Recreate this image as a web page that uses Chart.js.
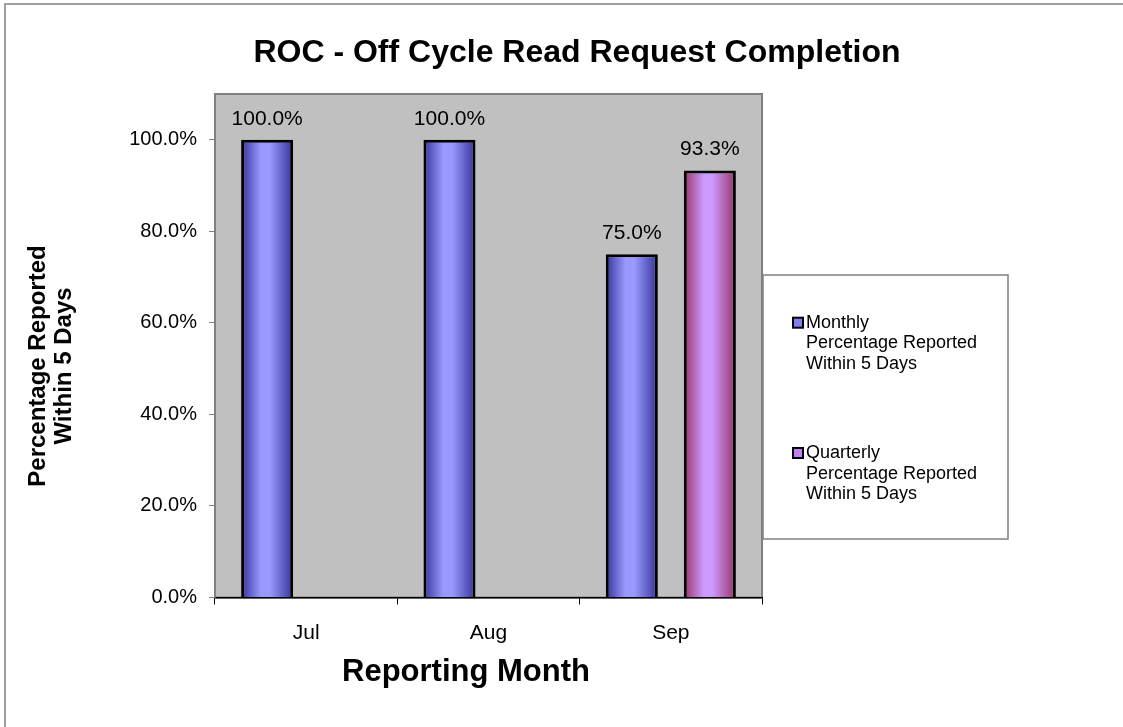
<!DOCTYPE html>
<html>
<head>
<meta charset="utf-8">
<script src="https://cdn.jsdelivr.net/npm/chart.js@4.4.1/dist/chart.umd.min.js"></script>
<style>
  html, body { margin: 0; padding: 0; background: #fff; }
  canvas { display: block; }
</style>
</head>
<body>
<canvas id="chart" width="1123" height="727"></canvas>
<script>
const categories = ['Jul', 'Aug', 'Sep'];
const monthlyValues = [100, 100, 75];
const quarterlyValues = [null, null, 93.3];
const seriesNames = [
  ['Monthly', 'Percentage Reported', 'Within 5 Days'],
  ['Quarterly', 'Percentage Reported', 'Within 5 Days'],
];
const yTickValues = [0, 20, 40, 60, 80, 100];

const FONT = '"Liberation Sans", Arial, sans-serif';

// horizontal shading across each bar, dark edges and a light middle
function barFill(edge, mid) {
  return (ctx) => {
    const el = ctx.element;
    if (!el || !isFinite(el.x) || !el.width) return mid;
    const g = ctx.chart.ctx.createLinearGradient(el.x - el.width / 2, 0, el.x + el.width / 2, 0);
    g.addColorStop(0, edge);
    g.addColorStop(0.38, mid);
    g.addColorStop(0.55, mid);
    g.addColorStop(1, edge);
    return g;
  };
}

const plotBackground = {
  id: 'plotBackground',
  beforeDraw(chart) {
    const { ctx, chartArea: a } = chart;
    ctx.save();
    // outer frame (only top and left edges are visible)
    ctx.strokeStyle = '#808080';
    ctx.lineWidth = 1.5;
    ctx.beginPath();
    ctx.moveTo(5, chart.height);
    ctx.lineTo(5, 4);
    ctx.lineTo(chart.width, 4);
    ctx.stroke();
    ctx.fillStyle = '#c0c0c0';
    ctx.fillRect(a.left, a.top, a.right - a.left, a.bottom - a.top);
    ctx.strokeStyle = '#808080';
    ctx.lineWidth = 2;
    ctx.strokeRect(a.left, a.top, a.right - a.left, a.bottom - a.top);
    ctx.restore();
  },
};

const valueLabels = {
  id: 'valueLabels',
  afterDatasetsDraw(chart) {
    const { ctx } = chart;
    ctx.save();
    ctx.font = '21px ' + FONT;
    ctx.fillStyle = '#000';
    ctx.textAlign = 'center';
    ctx.textBaseline = 'alphabetic';
    chart.data.datasets.forEach((ds, i) => {
      chart.getDatasetMeta(i).data.forEach((el, j) => {
        const v = ds.data[j];
        if (v === null || v === undefined) return;
        ctx.fillText(v.toFixed(1) + '%', el.x, el.y - 15);
      });
    });
    ctx.restore();
  },
};

const textAndLegend = {
  id: 'textAndLegend',
  afterDraw(chart) {
    const { ctx } = chart;
    ctx.save();
    ctx.fillStyle = '#000';

    ctx.font = 'bold 32px ' + FONT;
    ctx.textAlign = 'center';
    ctx.textBaseline = 'alphabetic';
    ctx.fillText('ROC - Off Cycle Read Request Completion', 577, 62);

    ctx.font = 'bold 31px ' + FONT;
    ctx.fillText('Reporting Month', 466, 681);

    ctx.save();
    ctx.font = 'bold 24px ' + FONT;
    ctx.translate(0, 366);
    ctx.rotate(-Math.PI / 2);
    ctx.fillText('Percentage Reported', 0, 45);
    ctx.fillText('Within 5 Days', 0, 71);
    ctx.restore();

    // legend box
    ctx.fillStyle = '#fff';
    ctx.fillRect(763, 275, 245, 264);
    ctx.strokeStyle = '#808080';
    ctx.lineWidth = 1.5;
    ctx.strokeRect(763, 275, 245, 264);

    const tops = [322.7, 453];
    ctx.font = '18px ' + FONT;
    ctx.textAlign = 'left';
    ctx.textBaseline = 'middle';
    chart.data.datasets.forEach((ds, i) => {
      const y = tops[i];
      ctx.fillStyle = ds.legendColor;
      ctx.fillRect(793, y - 5, 10, 10);
      ctx.strokeStyle = '#000';
      ctx.lineWidth = 2;
      ctx.strokeRect(793, y - 5, 10, 10);
      ctx.fillStyle = '#000';
      seriesNames[i].forEach((line, k) => {
        ctx.fillText(line, 806, y + k * 20.7);
      });
    });
    ctx.restore();
  },
};

const chart = new Chart(document.getElementById('chart'), {
  type: 'bar',
  data: {
    labels: categories,
    datasets: [
      {
        label: seriesNames[0].join(' '),
        data: monthlyValues,
        backgroundColor: barFill('#33339a', '#9999ff'),
        legendColor: '#8080f0',
        borderColor: '#000',
        borderWidth: 3,
        categoryPercentage: 0.856,
        barPercentage: 0.667,
      },
      {
        label: seriesNames[1].join(' '),
        data: quarterlyValues,
        backgroundColor: barFill('#993366', '#cc99ff'),
        legendColor: '#c080f0',
        borderColor: '#000',
        borderWidth: 3,
        categoryPercentage: 0.856,
        barPercentage: 0.667,
      },
    ],
  },
  options: {
    responsive: false,
    animation: false,
    layout: { padding: { left: 0, top: 94, right: 361, bottom: 0 } },
    plugins: {
      legend: { display: false },
      tooltip: { enabled: false },
      title: { display: false },
    },
    scales: {
      x: {
        grid: { drawOnChartArea: false, drawTicks: true, tickLength: 7, color: '#000' },
        border: { color: '#000', width: 1.5 },
        ticks: { font: { family: FONT, size: 21 }, color: '#000', padding: 16 },
        afterFit(scale) { scale.height = 129.5; },
      },
      y: {
        min: 0,
        max: 110,
        grid: { drawOnChartArea: false, drawTicks: true, tickLength: 6, color: '#808080' },
        border: { color: '#808080', width: 1.5 },
        ticks: {
          font: { family: FONT, size: 20 },
          color: '#000',
          padding: 12,
          callback: (v) => v.toFixed(1) + '%',
        },
        afterBuildTicks(scale) { scale.ticks = yTickValues.map((v) => ({ value: v })); },
        afterFit(scale) { scale.width = 215; },
      },
    },
  },
  plugins: [plotBackground, valueLabels, textAndLegend],
});
// second pass so the bar gradients can read the laid-out bar positions
chart.update('none');
</script>
</body>
</html>
